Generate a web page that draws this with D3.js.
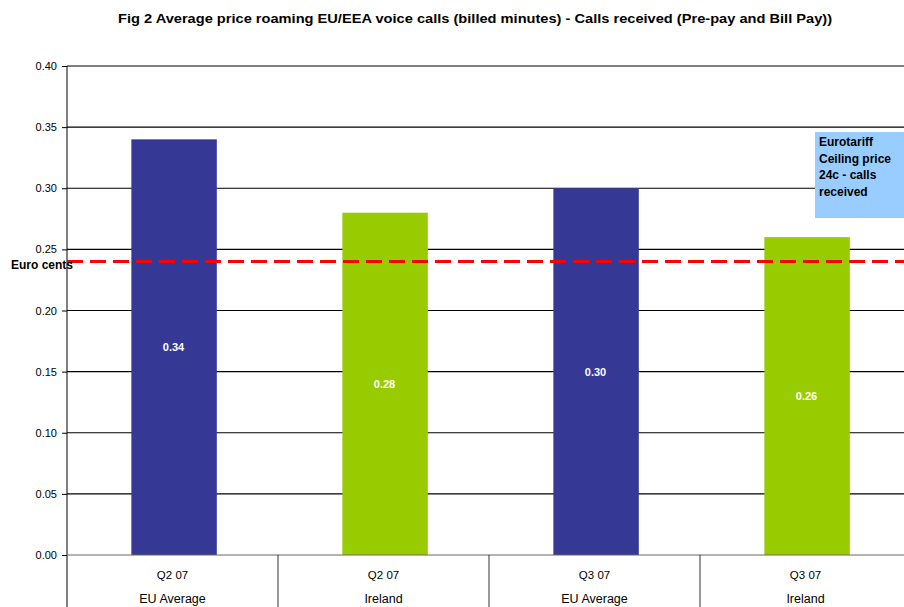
<!DOCTYPE html>
<html>
<head>
<meta charset="utf-8">
<script src="https://cdn.jsdelivr.net/npm/d3@7"></script>
<style>
  body { margin: 0; background: #fff; }
  text { font-family: "Liberation Sans", Arial, sans-serif; }
</style>
</head>
<body>
<script>
// chart data
var quarters = ["Q2 07", "Q2 07", "Q3 07", "Q3 07"];
var regions = ["EU Average", "Ireland", "EU Average", "Ireland"];
var prices = [0.34, 0.28, 0.30, 0.26];
var barColors = ["#363896", "#99cc00", "#363896", "#99cc00"];
var yTicks = [0, 0.05, 0.10, 0.15, 0.20, 0.25, 0.30, 0.35, 0.40];
var ceiling = 0.24;
var noteLines = ["Eurotariff", "Ceiling price", "24c - calls", "received"];

// dimensions chart
var width = 904;
var height = 607;
var plotLeft = 67;
var plotRight = 911;
var plotTop = 66;
var plotBottom = 555;

var svg = d3.select("body")
  .append("svg")
  .attr("width", width)
  .attr("height", height);

var xScale = d3.scaleBand()
  .domain(d3.range(prices.length))
  .range([plotLeft, plotRight])
  .paddingInner(0)
  .paddingOuter(0);

var yScale = d3.scaleLinear()
  .domain([0, 0.4])
  .range([plotBottom, plotTop]);

// title
svg.append("text")
  .attr("x", 475)
  .attr("y", 23)
  .attr("text-anchor", "middle")
  .attr("textLength", 714)
  .attr("lengthAdjust", "spacingAndGlyphs")
  .style("font-size", "13.5px")
  .style("font-weight", "bold")
  .text("Fig 2 Average price roaming EU/EEA voice calls (billed minutes) - Calls received (Pre-pay and Bill Pay))");

// gridlines
svg.append("g")
  .selectAll("line")
  .data(yTicks.slice(1))
  .enter()
  .append("line")
  .attr("x1", plotLeft)
  .attr("x2", width)
  .attr("y1", function(d) { return yScale(d); })
  .attr("y2", function(d) { return yScale(d); })
  .attr("stroke", "#000")
  .attr("stroke-width", 1.2);

// bars
svg.append("g")
  .selectAll("rect")
  .data(prices)
  .enter()
  .append("rect")
  .attr("x", function(d, i) { return xScale(i) + xScale.bandwidth() * 0.305; })
  .attr("width", xScale.bandwidth() * 0.405)
  .attr("y", function(d) { return yScale(d); })
  .attr("height", function(d) { return plotBottom - yScale(d); })
  .attr("fill", function(d, i) { return barColors[i]; });

// value labels
svg.append("g")
  .selectAll("text")
  .data(prices)
  .enter()
  .append("text")
  .attr("x", function(d, i) { return xScale(i) + xScale.bandwidth() / 2 + 1; })
  .attr("y", function(d) { return (yScale(d) + plotBottom) / 2 + 4; })
  .attr("text-anchor", "middle")
  .attr("fill", "#fff")
  .style("font-size", "11px")
  .style("font-weight", "bold")
  .text(function(d) { return d3.format(".2f")(d); });

// y axis
var yAxis = d3.axisLeft(yScale)
  .tickValues(yTicks)
  .tickSize(5)
  .tickPadding(5)
  .tickFormat(d3.format(".2f"));

var yg = svg.append("g")
  .attr("transform", "translate(" + [plotLeft, 0] + ")")
  .call(yAxis);
yg.select(".domain").remove();
yg.selectAll("text").style("font-size", "11px").attr("fill", "#000")
  .style("font-family", "'Liberation Sans', Arial, sans-serif");
yg.selectAll("line").attr("stroke", "#000");

svg.append("line")
  .attr("x1", plotLeft).attr("x2", plotLeft)
  .attr("y1", plotTop).attr("y2", height)
  .attr("stroke", "#000");

// x axis line and category separators
svg.append("line")
  .attr("x1", plotLeft).attr("x2", width)
  .attr("y1", plotBottom).attr("y2", plotBottom)
  .attr("stroke", "#666");

svg.append("g")
  .selectAll("line")
  .data(d3.range(1, prices.length))
  .enter()
  .append("line")
  .attr("x1", function(i) { return xScale(i); })
  .attr("x2", function(i) { return xScale(i); })
  .attr("y1", plotBottom)
  .attr("y2", height)
  .attr("stroke", "#333");

// category labels
var cats = svg.append("g")
  .selectAll("g")
  .data(quarters)
  .enter()
  .append("g")
  .attr("transform", function(d, i) { return "translate(" + [xScale(i) + xScale.bandwidth() / 2, 0] + ")"; });

cats.append("text")
  .attr("y", 579)
  .attr("text-anchor", "middle")
  .style("font-size", "11.5px")
  .text(function(d) { return d; });

cats.append("text")
  .attr("y", 603)
  .attr("text-anchor", "middle")
  .style("font-size", "12.5px")
  .text(function(d, i) { return regions[i]; });

// ceiling line
svg.append("line")
  .attr("x1", plotLeft)
  .attr("x2", width)
  .attr("y1", yScale(ceiling))
  .attr("y2", yScale(ceiling))
  .attr("stroke", "#ff0000")
  .attr("stroke-width", 3)
  .attr("stroke-dasharray", "16,7");

svg.append("text")
  .attr("x", 11)
  .attr("y", 269)
  .style("font-size", "12px")
  .style("font-weight", "bold")
  .text("Euro cents");

// note box
svg.append("rect")
  .attr("x", 815)
  .attr("y", 132)
  .attr("width", 100)
  .attr("height", 86)
  .attr("fill", "#99ccff");

svg.append("g")
  .selectAll("text")
  .data(noteLines)
  .enter()
  .append("text")
  .attr("x", 819)
  .attr("y", function(d, i) { return 146 + i * 16.5; })
  .style("font-size", "12px")
  .style("font-weight", "bold")
  .text(function(d) { return d; });
</script>
</body>
</html>
